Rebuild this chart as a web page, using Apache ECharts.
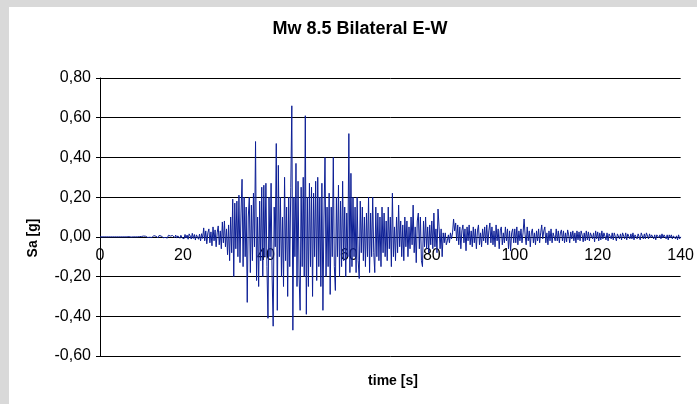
<!DOCTYPE html>
<html>
<head>
<meta charset="utf-8">
<script src="https://cdn.jsdelivr.net/npm/echarts@6/dist/echarts.min.js"></script>
<style>html,body{margin:0;padding:0;background:#d6d6d6;}#c{width:697px;height:404px;}</style>
</head>
<body>
<div id="c"></div>
<script>
// Sampling step of the record (seconds)
const dt = 0.25;
const title = 'Mw 8.5 Bilateral E-W';
const yName = 'Sa [g]';
const xName = 'time [s]';
const xTicks = [0, 20, 40, 60, 80, 100, 120, 140];
const yTicks = [-0.6, -0.4, -0.2, 0, 0.2, 0.4, 0.6, 0.8];

// Acceleration values (g), consecutive samples every dt seconds, in 5..10 s blocks
const a00_10 = [0,0,0,0, 0,0,0,0, 0,0,0,0, 0,0,0,0, 0,0,0,0, 0,0,0,0, 0,0,0,0, 0.001,0.004,-0.001,0, 0,0.001,0,0, 0,0,0.001,0];
const a10_20 = [0.002,-0.002,0.004,-0.001, 0.003,0,-0.003,0.005, -0.002,0.004,-0.003,0.002, 0.006,-0.004,0.003,0.001, -0.005,0.007,-0.002,0.004, 0.003,-0.004,0.006,-0.003, 0.005,-0.006,0.008,-0.002, 0.004,-0.005,0.007,0.002, -0.004,0.009,-0.006,0.005, 0.003,-0.007,0.008,-0.004];
const a20_25 = [0.006,-0.01,0.012,-0.006, 0.009,-0.012,0.015,0.004, -0.011,0.018,-0.008,0.012, -0.016,0.01,0.02,-0.012, 0.014,-0.02,0.016,-0.008];
const a25_30 = [0.045,-0.02,0.03,-0.035, 0.02,0.04,-0.03,0.025, -0.045,0.05,-0.02,0.035, -0.05,0.02,0.055,-0.04, 0.03,-0.06,0.075,-0.03];
const a30_35 = [0.08,-0.05,0.04,-0.09, 0.06,-0.12,0.1,-0.08, 0.19,-0.2,0.17,-0.06, 0.18,-0.1,0.21,-0.13, 0.12,0.29,-0.15,0.2];
const a35_40 = [-0.1,0.15,-0.33,0.1, 0.2,-0.18,0.16,-0.12, 0.22,-0.05,0.48,-0.22, 0.1,-0.25,0.18,-0.12, 0.25,-0.2,0.26,-0.1];
const a40_45 = [0.27,-0.15,-0.41,0.2, -0.1,0.27,-0.2,-0.45, 0.15,-0.05,0.47,-0.37, 0.36,-0.1,0.2,-0.2, 0.1,-0.25,0.3,-0.12];
const a45_50 = [0.15,-0.3,0.2,-0.15, 0.25,0.66,-0.47,0.2, -0.1,0.37,-0.25,0.28, -0.2,-0.37,0.25,-0.15, 0.3,-0.2,0.61,-0.39];
const a50_55 = [0.2,-0.25,0.27,-0.15, 0.25,-0.3,0.22,-0.1, 0.28,-0.22,0.3,-0.15, 0.2,-0.25,0.27,-0.37, 0.1,0.4,-0.2,0.15];
const a55_60 = [-0.15,0.22,-0.29,0.15, -0.1,0.4,-0.15,-0.27, 0.2,-0.1,0.26,-0.2, 0.18,-0.15,0.28,-0.12, 0.15,-0.2,0.12,-0.1];
const a60_65 = [0.52,-0.18,0.32,-0.15, 0.2,-0.1,0.15,-0.18, 0.2,-0.12,-0.21,0.18, -0.08,0.15,-0.12,0.1, -0.15,0.12,-0.1,0.2];
const a65_70 = [-0.18,0.12,-0.1,0.2, -0.08,-0.18,0.15,-0.1, 0.12,-0.12,0.1,-0.15, 0.15,-0.08,0.12,-0.1, 0.08,-0.12,0.15,-0.06];
const a70_75 = [0.1,-0.15,0.22,-0.1, 0.05,-0.12,0.1,-0.08, 0.16,-0.05,0.08,-0.1, 0.06,-0.12,0.1,-0.05, 0.08,-0.1,0.05,-0.06];
const a75_80 = [0.1,-0.04,0.16,-0.08, 0.05,-0.13,0.08,0.12, -0.06,0.1,-0.12,-0.15, 0.08,-0.05,0.1,-0.06, 0.05,-0.08,0.06,-0.04];
const a80_85 = [0.08,-0.06,0.12,-0.05, 0.04,-0.08,0.14,0.05, -0.06,0.04,-0.1,0.02, -0.03,0.02,-0.04,-0.02, 0.01,-0.03,0.02,-0.01];
const a85_90 = [0.02,0.09,0.03,0.07, -0.02,0.06,-0.04,0.05, -0.06,0.03,0.06,-0.03, 0.04,-0.07,0.05,-0.02, 0.06,-0.04,0.03,-0.05];
const a90_95 = [0.05,-0.03,0.04,-0.06, 0.03,0.06,-0.04,0.02, -0.05,0.04,-0.02,0.05, -0.03,0.06,-0.04,0.03, 0.07,-0.03,0.05,-0.04];
const a95_100 = [0.03,-0.05,0.06,-0.02, 0.04,-0.06,0.03,0.05, -0.04,0.02,-0.03,0.05, -0.02,0.04,-0.06,0.03, -0.07,0.02,0.04,-0.03];
const a100_105 = [0.04,-0.03,0.05,-0.04, 0.03,-0.02,0.04,-0.03, 0.02,0.09,0.01,-0.04, 0.05,-0.02,0.03,-0.05, 0.02,0.04,-0.03,0.02];
const a105_110 = [-0.04,0.03,-0.02,0.04, -0.03,0.02,0.06,-0.01, 0.03,0.05,-0.03,0.02, -0.04,0.03,-0.02,0.04, -0.03,0.02,0.03,-0.02];
const a110_115 = [0.04,-0.02,0.03,-0.03, 0.02,0.035,-0.02,0.03, -0.03,0.02,-0.025,0.035, 0.01,-0.03,0.025,-0.01, 0.03,-0.02,0.02,-0.03];
const a115_120 = [0.03,-0.015,0.025,-0.02, 0.03,0.01,-0.025,0.02, -0.02,0.03,-0.015,0.025, -0.02,0.02,0.03,-0.01, 0.02,-0.025,0.03,-0.01];
const a120_125 = [0.025,-0.02,0.02,-0.015, 0.03,-0.01,0.02,0.025, -0.015,0.02,-0.02,0.015, 0.025,-0.01,0.02,-0.015, 0.02,0.01,-0.02,0.015];
const a125_130 = [0.02,-0.01,0.015,-0.015, 0.02,0.01,-0.01,0.02, -0.015,0.015,0.02,-0.01, 0.015,-0.01,0.02,-0.015, 0.01,0.02,-0.01,0.015];
const a130_135 = [0.01,-0.015,0.02,0.005, -0.01,0.015,-0.01,0.02, 0.01,-0.01,0.015,-0.005, 0.01,0.02,-0.01,0.01, -0.015,0.01,0.015,-0.005];
const a135_140 = [0.01,-0.01,0.015,-0.005, 0.01,0.005,-0.01,0.01, -0.015,0.01,-0.005,0.01, -0.01,0.005,0.01,-0.01, 0.005,-0.015,0.01,-0.01, 0];

const values = [].concat(a00_10, a10_20, a20_25, a25_30, a30_35, a35_40, a40_45, a45_50,
  a50_55, a55_60, a60_65, a65_70, a70_75, a75_80, a80_85, a85_90, a90_95, a95_100,
  a100_105, a105_110, a110_115, a115_120, a120_125, a125_130, a130_135, a135_140);
const seriesData = values.map((v, i) => [i * dt, v]);

const font = '"Liberation Sans", Arial, sans-serif';
const gridTop = 78, gridBottom = 48, H = 404;
const plotH = H - gridTop - gridBottom;
const yMin = yTicks[0], yMax = yTicks[yTicks.length - 1];
// lift the x axis from the bottom of the grid up to y = 0
const xAxisOffset = -plotH * (0 - yMin) / (yMax - yMin);

const chart = echarts.init(document.getElementById('c'), null, {renderer: 'canvas'});
chart.setOption({
  animation: false,
  backgroundColor: '#d9d9d9',
  graphic: [
    {type: 'rect', z: -10, shape: {x: 9, y: 7, width: 697, height: 404}, style: {fill: '#ffffff'}},
    {type: 'text', x: 360, y: 29, style: {text: title, font: 'bold 18px ' + font, fill: '#000', align: 'center', verticalAlign: 'middle'}},
    {type: 'text', x: 393, y: 381, style: {text: xName, font: 'bold 14px ' + font, fill: '#000', align: 'center', verticalAlign: 'middle'}},
    {type: 'text', x: 33, y: 238, rotation: Math.PI / 2, style: {text: yName, font: 'bold 14px ' + font, fill: '#000', align: 'center', verticalAlign: 'middle'}}
  ],
  grid: {left: 100, right: 11, top: gridTop, bottom: gridBottom, containLabel: false},
  xAxis: {
    type: 'value', min: xTicks[0], max: xTicks[xTicks.length - 1], interval: 20,
    offset: xAxisOffset,
    axisLine: {onZero: false, lineStyle: {color: '#000', width: 1}},
    axisTick: {show: false},
    splitLine: {show: false},
    axisLabel: {color: '#000', fontFamily: font, fontSize: 16, margin: 11}
  },
  yAxis: {
    type: 'value', min: yMin, max: yMax, interval: 0.2,
    axisLine: {show: true, onZero: false, lineStyle: {color: '#000', width: 1}},
    axisTick: {show: true, length: 4, lineStyle: {color: '#000'}},
    splitLine: {show: true, lineStyle: {color: '#000', width: 1}},
    axisLabel: {color: '#000', fontFamily: font, fontSize: 16, margin: 9,
      formatter: v => v.toFixed(2).replace('.', ',')}
  },
  series: [{
    type: 'line', data: seriesData, showSymbol: false, symbol: 'none',
    lineStyle: {color: '#0d1f96', width: 1}, z: 5
  }]
});
</script>
</body>
</html>
